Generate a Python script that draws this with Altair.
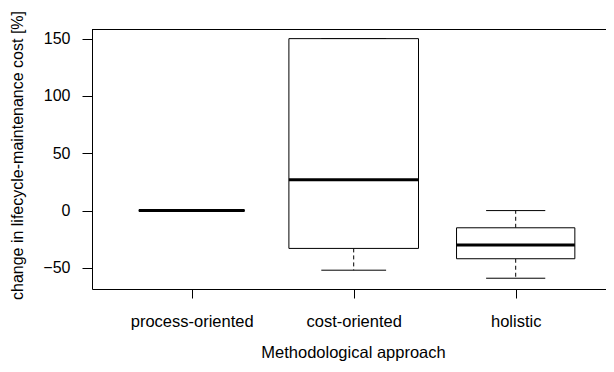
import math
import altair as alt
import pandas as pd

# ---- data ----
categories = ["process-oriented", "cost-oriented", "holistic"]
n_obs = [4, 6, 5]                 # used for proportional box widths (varwidth)
lower_whisker = [0, -52, -59]
q1 = [0, -33, -42]
median = [0, 27, -30]
q3 = [0, 150, -15]
upper_whisker = [0, 150, 0]

y_ticks = [-50, 0, 50, 100, 150]

positions = list(range(1, len(categories) + 1))
max_n = max(n_obs)
half_width = [0.4 * math.sqrt(n / max_n) for n in n_obs]

df = pd.DataFrame({
    "pos": positions,
    "category": categories,
    "lo": lower_whisker,
    "q1": q1,
    "med": median,
    "q3": q3,
    "hi": upper_whisker,
    "hw": half_width,
})

W, H = 514, 260
PX_PER_UNIT = 162
x_min = 1 - 99.7 / PX_PER_UNIT
x_scale = alt.Scale(domain=[x_min, x_min + W / PX_PER_UNIT], nice=False, zero=False)
y_scale = alt.Scale(domain=[-68.4, 158.4], nice=False, zero=False)

label_expr = " : ".join(
    [f"datum.value == {p} ? '{c}'" for p, c in zip(positions[:-1], categories[:-1])]
    + [f"'{categories[-1]}'"]
)

FONT = "Liberation Sans"

x_axis = alt.Axis(
    values=positions, labelExpr=label_expr, title="Methodological approach",
    grid=False, tickSize=9, labelPadding=15, labelFontSize=16.5, labelFont=FONT,
    labelColor="#000000", titleFont=FONT, titleFontSize=16.5, titleFontWeight="normal",
    titleColor="#000000", titleX=261, titleY=63, titleBaseline="middle",
    titleAlign="center",
    domainColor="#000000", tickColor="#000000", labelFlush=False,
)
y_axis = alt.Axis(
    values=y_ticks, title="change in lifecycle-maintenance cost [%]",
    grid=False, tickSize=10, labelPadding=12, labelFontSize=16, labelFont=FONT,
    labelColor="#000000", titleFont=FONT, titleFontSize=16, titleFontWeight="normal",
    titleColor="#000000", titleX=-75, titleY=126, titleAngle=-90,
    titleBaseline="middle", titleAlign="center",
    domainColor="#000000", tickColor="#000000", labelFlush=False,
)

base = alt.Chart(df).transform_calculate(
    xl="datum.pos - datum.hw",
    xr="datum.pos + datum.hw",
    cl="datum.pos - datum.hw / 2",
    cr="datum.pos + datum.hw / 2",
)

boxes = base.mark_rect(fill="white", stroke="black", strokeWidth=1).encode(
    x=alt.X("xl:Q", scale=x_scale, axis=x_axis),
    x2="xr:Q",
    y=alt.Y("q1:Q", scale=y_scale, axis=y_axis),
    y2="q3:Q",
)

whisk_hi = base.mark_rule(color="black", strokeWidth=1, strokeDash=[4, 3]).encode(
    x=alt.X("pos:Q", scale=x_scale, axis=x_axis),
    y=alt.Y("q3:Q", scale=y_scale, axis=y_axis),
    y2="hi:Q",
)
whisk_lo = base.mark_rule(color="black", strokeWidth=1, strokeDash=[4, 3]).encode(
    x=alt.X("pos:Q", scale=x_scale, axis=x_axis),
    y=alt.Y("q1:Q", scale=y_scale, axis=y_axis),
    y2="lo:Q",
)
cap_hi = base.mark_rule(color="black", strokeWidth=1).encode(
    x=alt.X("cl:Q", scale=x_scale, axis=x_axis),
    x2="cr:Q",
    y=alt.Y("hi:Q", scale=y_scale, axis=y_axis),
)
cap_lo = base.mark_rule(color="black", strokeWidth=1).encode(
    x=alt.X("cl:Q", scale=x_scale, axis=x_axis),
    x2="cr:Q",
    y=alt.Y("lo:Q", scale=y_scale, axis=y_axis),
)
medians = base.mark_rule(color="black", strokeWidth=3).encode(
    x=alt.X("xl:Q", scale=x_scale, axis=x_axis),
    x2="xr:Q",
    y=alt.Y("med:Q", scale=y_scale, axis=y_axis),
)

top_frame = alt.Chart(df).mark_rule(color="black", strokeWidth=1).encode(
    x=alt.value(0), x2=alt.value(W), y=alt.value(0.5)
)

chart = alt.layer(
    whisk_hi, whisk_lo, cap_hi, cap_lo, boxes, medians, top_frame
).properties(
    width=W, height=H,
    autosize=alt.AutoSizeParams(type="none"),
    padding={"left": 84, "top": 21, "right": 0, "bottom": 75},
    background="white",
).configure_view(stroke=None)

chart.save("out.html", embed_options={"renderer": "svg", "actions": False})
